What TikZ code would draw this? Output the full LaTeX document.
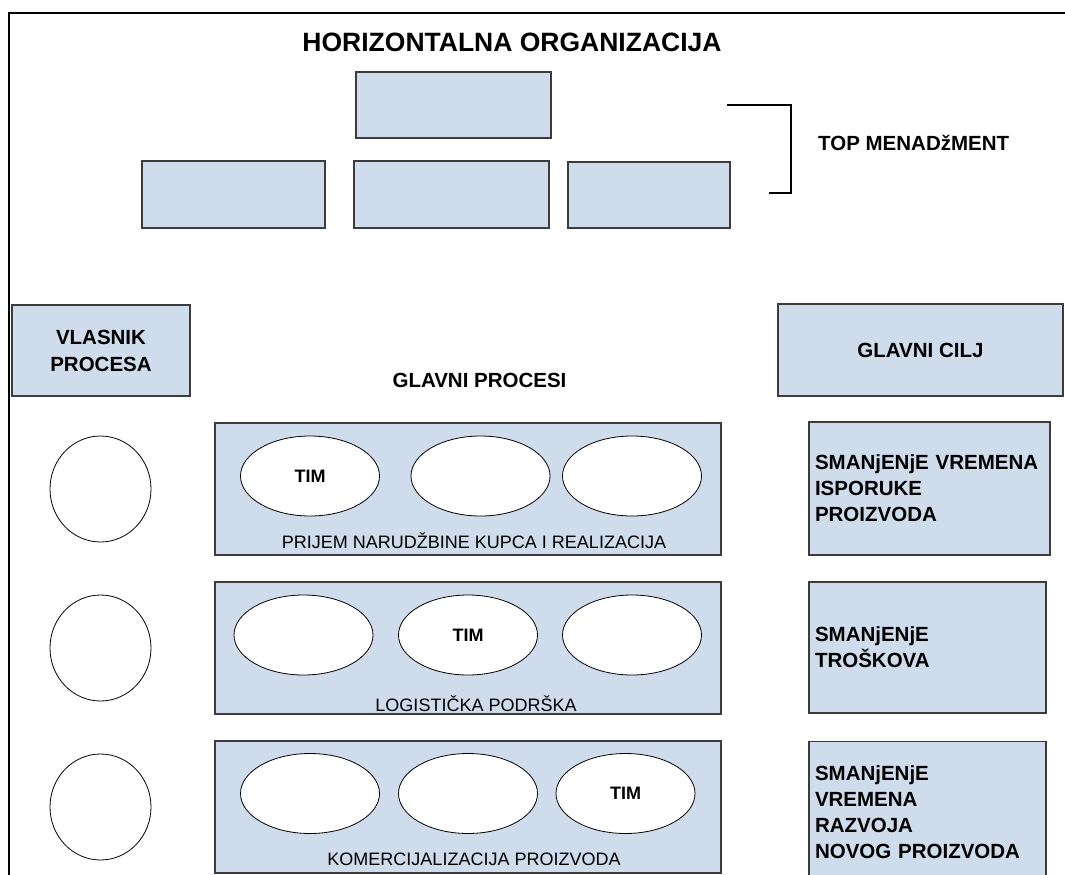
\documentclass[tikz,border=0pt]{standalone}
\usepackage{fontspec}
\setmainfont{Liberation Sans}
\usetikzlibrary{shapes.geometric,positioning}
\definecolor{boxblue}{RGB}{207,220,236}
\definecolor{boxline}{RGB}{60,60,60}

\begin{document}
\begin{tikzpicture}[x=1pt,y=-1pt,
        box/.style={draw=boxline,line width=1.1pt,fill=boxblue,inner sep=0pt},
        owner/.style={ellipse,draw=black,line width=0.8pt,fill=white,minimum width=101pt,minimum height=106pt,inner sep=0pt},
        team/.style={ellipse,draw=black,line width=0.8pt,fill=white,minimum width=139pt,minimum height=80pt,inner sep=0pt,font=\bfseries\fontsize{18}{20}\selectfont},
        heading/.style={font=\bfseries\fontsize{20.5}{27}\selectfont,align=center},
        goal/.style={box,text width=229pt,inner xsep=6pt,align=left,font=\bfseries\fontsize{20.5}{26}\selectfont},
        procname/.style={anchor=base,inner sep=0pt,font=\fontsize{18}{20}\selectfont}]
  \useasboundingbox (0,0) rectangle (1065,875);
  \draw[line width=2pt] (9,880) -- (9,13) -- (1070,13);

  % top management
  \node[font=\bfseries\fontsize{26.5}{30}\selectfont] (title) at (512,42) {HORIZONTALNA ORGANIZACIJA};
  \node[box,minimum width=195pt,minimum height=66pt] (mgr0) at (453.5,105) {};
  \node[box,minimum width=183pt,minimum height=67pt] (mgr1) at (233.5,194.5) {};
  \node[box,minimum width=195pt,minimum height=67pt] (mgr2) at (451.5,194.5) {};
  \node[box,minimum width=162pt,minimum height=66pt] (mgr3) at (649,195) {};
  \coordinate (brtop) at (727,105);
  \coordinate (brbot) at (769,193);
  \draw[line width=2.5pt] (brtop) -| (791,193) -- (brbot);
  \node[heading,anchor=west,inner sep=0pt] (topmgmt) at (818,142.5) {TOP MENADžMENT};

  % headers
  \node[box,heading,minimum width=178pt,minimum height=91pt] (ownerhead) at (101,350.5) {VLASNIK\\PROCESA};
  \node[heading] (mainproc) at (479.5,380) {GLAVNI PROCESI};
  \node[box,heading,minimum width=285pt,minimum height=92pt] (goalhead) at (920.5,350) {GLAVNI CILJ};

  % process 1
  \node[owner] (owner1) at (100.5,489) {};
  \node[box,minimum width=506pt,minimum height=132pt] (proc1) at (468,489) {};
  \node[team] (team11) at (310,476) {TIM};
  \node[team] (team12) at (480.5,476) {};
  \node[team] (team13) at (632,476) {};
  \node[procname] (pname1) at (474,548) {PRIJEM NARUDŽBINE KUPCA I REALIZACIJA};
  \node[goal,minimum height=133pt] (goal1) at (929.5,488.5) {SMANjENjE VREMENA\\ISPORUKE\\PROIZVODA};

  % process 2
  \node[owner] (owner2) at (100.5,648) {};
  \node[box,minimum width=506pt,minimum height=132pt] (proc2) at (468,648) {};
  \node[team] (team21) at (303.5,635) {};
  \node[team] (team22) at (468,635) {TIM};
  \node[team] (team23) at (632,635) {};
  \node[procname] (pname2) at (476,711) {LOGISTIČKA PODRŠKA};
  \node[goal,text width=225pt,minimum height=131pt] (goal2) at (927.5,647.5) {SMANjENjE\\TROŠKOVA};

  % process 3
  \node[owner] (owner3) at (100.5,807) {};
  \node[box,minimum width=506pt,minimum height=132pt] (proc3) at (468,807) {};
  \node[team] (team31) at (310,793.5) {};
  \node[team] (team32) at (468,793.5) {};
  \node[team] (team33) at (625.5,793.5) {TIM};
  \node[procname] (pname3) at (474,865) {KOMERCIJALIZACIJA PROIZVODA};
  \node[goal,text width=225pt,minimum height=142pt,anchor=north] (goal3) at (927.5,741) {SMANjENjE\\VREMENA\\RAZVOJA\\NOVOG PROIZVODA};
\end{tikzpicture}
\end{document}
